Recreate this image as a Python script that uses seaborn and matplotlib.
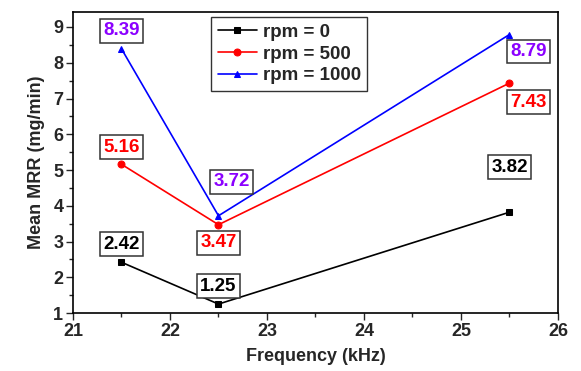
import matplotlib
matplotlib.use("Agg")
import matplotlib.pyplot as plt
import seaborn as sns
import pandas as pd
from matplotlib.ticker import MultipleLocator, AutoMinorLocator

frequency = [21.5, 22.5, 25.5]
rpm0 = [2.42, 1.25, 3.82]
rpm500 = [5.16, 3.47, 7.43]
rpm1000 = [8.39, 3.72, 8.79]
series_names = ["rpm = 0", "rpm = 500", "rpm = 1000"]

sns.set_theme(style="ticks")
plt.rcParams['font.family'] = ['Liberation Sans', 'DejaVu Sans']
plt.rcParams['font.weight'] = 'bold'

fig = plt.figure(figsize=(5.81, 3.71), dpi=100)
ax = fig.add_axes([0.1256, 0.1563, 0.8348, 0.8114])

colors = ["black", "red", "blue"]
markers = ["s", "o", "^"]
text_colors = ["black", "red", "#8B00FF"]
data = [rpm0, rpm500, rpm1000]

for name, vals, c, m in zip(series_names, data, colors, markers):
    df = pd.DataFrame({"x": frequency, "y": vals})
    sns.lineplot(data=df, x="x", y="y", ax=ax, color=c, marker=m, markersize=5,
                 markeredgecolor=c, linewidth=1.2, label=name)

# label offsets in pixels (dx, dy)
offsets = [
    [(0, 18), (0, 18), (0, 45)],
    [(0, 17), (0, -18), (19, -19)],
    [(0, 18), (13, 34), (19, -17)],
]
for vals, tc, offs in zip(data, text_colors, offsets):
    for x, y, (dx, dy) in zip(frequency, vals, offs):
        ax.annotate(f"{y:.2f}", (x, y), xytext=(dx, dy), textcoords="offset pixels",
                    ha="center", va="center", color=tc, fontsize=13.5, fontweight="bold",
                    bbox=dict(boxstyle="square,pad=0.18", fc="white", ec="#333333", lw=1.1))

ax.set_xlim(21, 26)
ax.set_ylim(1, 9.42)
ax.xaxis.set_major_locator(MultipleLocator(1))
ax.yaxis.set_major_locator(MultipleLocator(1))
ax.xaxis.set_minor_locator(AutoMinorLocator(2))
ax.yaxis.set_minor_locator(AutoMinorLocator(2))
ax.tick_params(which="major", direction="out", length=5, width=1, labelsize=13, pad=2)
ax.tick_params(which="minor", direction="out", length=3, width=1)
for lbl in ax.get_xticklabels() + ax.get_yticklabels():
    lbl.set_fontweight("bold")
for s in ax.spines.values():
    s.set_visible(True)
    s.set_color("black")
    s.set_linewidth(1.2)

ax.set_xlabel("Frequency (kHz)", fontsize=13, fontweight="bold", labelpad=6)
ax.set_ylabel("Mean MRR (mg/min)", fontsize=13, fontweight="bold", labelpad=6)

leg = ax.legend(loc="upper left", bbox_to_anchor=(0.285, 0.983), frameon=True, fancybox=False,
                edgecolor="black", prop={"weight": "bold", "size": 13.5}, handlelength=2.1,
                borderpad=0.35, labelspacing=0.25, handletextpad=0.3, borderaxespad=0)
leg.get_frame().set_linewidth(1)

fig.savefig("out.png", dpi=100)
